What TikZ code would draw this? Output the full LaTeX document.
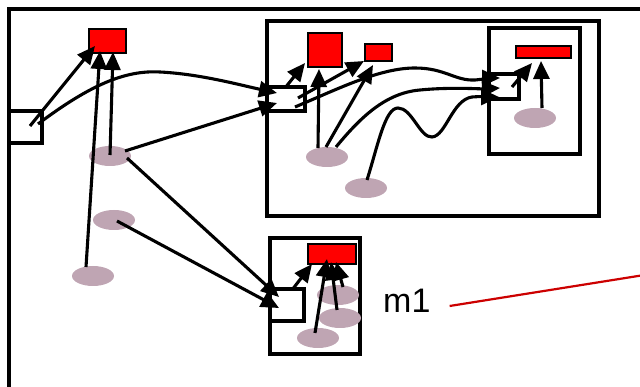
\documentclass[tikz,border=0pt]{standalone}
\usepackage{fontspec}
\setmainfont{Liberation Sans}
\usetikzlibrary{arrows.meta,shapes.geometric}
\definecolor{mauve}{HTML}{BFA5B3}
\definecolor{mred}{HTML}{CC0000}
\begin{document}
\begin{tikzpicture}[x=1pt,y=-1pt,
  box/.style={draw,line width=4.4pt,inner sep=0pt,outer sep=0pt},
  redbox/.style={draw=black,fill=red,line width=1.6pt,inner sep=0pt,outer sep=0pt},
  blob/.style={ellipse,fill=mauve,draw=none,minimum width=42pt,minimum height=20pt,inner sep=0pt},
  conn/.style={line width=3.1pt,-{Triangle[length=18pt 0 0,width=16pt 0 0]}},
  pointer/.style={line width=2.2pt,draw=mred}]
\useasboundingbox (0,0) rectangle (640,387);
% outer frame
\draw[line width=4.4pt] (9,400) -- (9,9) -- (660,9);
% top-left group
\node[redbox,minimum width=37.5pt,minimum height=24.5pt] (red1) at (107.5,41) {};
\node[box,minimum width=33pt,minimum height=32pt] (sqL) at (25.5,127) {};
\node[blob] (elA) at (110,156) {};
\node[blob] (elB) at (114,220) {};
\node[blob] (elC) at (93,276) {};
% big frame
\node[box,minimum width=332pt,minimum height=195pt] (big) at (433,118.5) {};
\node[redbox,minimum width=34.5pt,minimum height=34.5pt] (red2) at (325,50) {};
\node[redbox,minimum width=27.5pt,minimum height=17.5pt] (red3) at (378.5,52.5) {};
\node[box,minimum width=38pt,minimum height=24pt] (sqM) at (286,99) {};
\node[blob] (elE) at (327,157) {};
\node[blob] (elF) at (366,188) {};
% inner frame
\node[box,minimum width=91pt,minimum height=126pt] (inner) at (534.5,91) {};
\node[redbox,minimum width=55.5pt,minimum height=12.5pt] (red4) at (543.5,52) {};
\node[box,minimum width=30pt,minimum height=25pt] (sqR) at (504,86.5) {};
\node[blob] (elD) at (535,118) {};
% bottom frame
\node[box,minimum width=90pt,minimum height=116pt] (bot) at (315,296) {};
\node[redbox,minimum width=48.5pt,minimum height=20.5pt] (red5) at (332,254) {};
\node[box,minimum width=34pt,minimum height=32pt] (sqB) at (287,305) {};
\node[blob] (elG) at (338,295) {};
\node[blob] (elH) at (340,318) {};
\node[blob] (elI) at (318,338) {};
% label
\node[anchor=base west,inner sep=0pt,font=\fontsize{34}{40}\selectfont] (m1) at (383,313) {m1};
\coordinate (mend) at (660,272.5);
\draw[pointer] ([shift={(19,-7)}]m1.base east) -- (mend);
% connectors, left part
\draw[conn] ([shift={(4.5,-1)}]sqL.center) -- ([shift={(-12.5,5)}]red1.center);
\draw[conn] ([shift={(-7,-9)}]elC.center) -- ([shift={(-7.5,10)}]red1.center);
\draw[conn] ([shift={(0,-1)}]elA.center) -- ([shift={(5.5,11)}]red1.center);
\draw[conn] ([shift={(12.5,-3)}]sqL.center) .. controls (90,85) and (125,70) .. (160,72)
   .. controls (200,74) and (240,85) .. ([shift={(-9,-6)}]sqM.center);
\draw[conn] ([shift={(15,-5)}]elA.center) -- ([shift={(-9,4)}]sqM.center);
\draw[conn] ([shift={(17,2)}]elA.center) -- ([shift={(-8,-8)}]sqB.center);
\draw[conn] ([shift={(3,1)}]elB.center) -- ([shift={(-8,3)}]sqB.center);
% connectors, big frame
\draw[conn] ([shift={(-1,-11)}]sqM.center) -- ([shift={(-20,13)}]red2.center);
\draw[conn] ([shift={(-9,-9)}]elE.center) -- ([shift={(-6,19)}]red2.center);
\draw[conn] ([shift={(12,-1)}]sqM.center) -- ([shift={(-14.5,8.5)}]red3.center);
\draw[conn] ([shift={(-1,-10)}]elE.center) -- ([shift={(-5.5,12.5)}]red3.center);
\draw[conn] ([shift={(9,8)}]sqM.center) .. controls (340,88) and (380,68) .. (415,68)
   .. controls (445,68) and (455,81) .. (475,80)
   .. controls (485,79) and (492,78) .. ([shift={(-4,-8.5)}]sqR.center);
\draw[conn] ([shift={(9,-10)}]elE.center) .. controls (360,118) and (385,93) .. (420,90)
   .. controls (450,87) and (480,89) .. ([shift={(-4,1.5)}]sqR.center);
\draw[conn] ([shift={(1,-8)}]elF.center) .. controls (378,145) and (385,108) .. (398,108)
   .. controls (412,108) and (420,138) .. (432,137)
   .. controls (446,136) and (452,100) .. (472,97)
   .. controls (485,96) and (492,97) .. ([shift={(-5,10.5)}]sqR.center);
\draw[conn] ([shift={(8,0.5)}]sqR.center) -- ([shift={(-11.5,11)}]red4.center);
\draw[conn] ([shift={(7,-10)}]elD.center) -- ([shift={(-2.5,9)}]red4.center);
% connectors, bottom frame
\draw[conn] ([shift={(5,-15)}]sqB.center) -- ([shift={(-20,10)}]red5.center);
\draw[conn] ([shift={(-3,-5)}]elI.center) -- ([shift={(-5,5)}]red5.center);
\draw[conn] ([shift={(-3,-8)}]elH.center) -- ([shift={(-1,8)}]red5.center);
\draw[conn] ([shift={(5,-8)}]elG.center) -- ([shift={(4,8)}]red5.center);
\end{tikzpicture}
\end{document}
